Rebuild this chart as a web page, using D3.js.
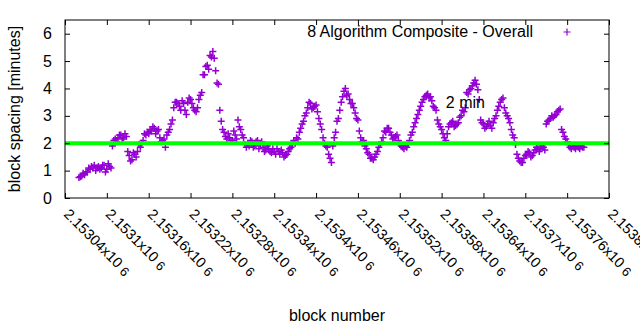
<!DOCTYPE html>
<meta charset="utf-8">

<div id="spacing-chart"></div>

<script src="https://d3js.org/d3.v7.min.js"></script>

<style type="text/css">
  body { margin: 0; background: #fff; }
  text { font-family: "Liberation Sans", Arial, sans-serif; fill: #000; }
</style>

<script>

var blocks = [
  2153060,2153062,2153064,2153066,2153068,2153070,2153072,2153074,2153076,2153078,
  2153080,2153082,2153084,2153086,2153088,2153090,2153092,2153094,2153096,2153098,
  2153100,2153102,2153104,2153106,2153108,2153110,2153112,2153114,2153116,2153118,
  2153120,2153122,2153124,2153126,2153128,2153130,2153132,2153134,2153136,2153138,
  2153140,2153142,2153144,2153146,2153148,2153150,2153152,2153154,2153156,2153158,
  2153160,2153162,2153164,2153166,2153168,2153170,2153172,2153174,2153176,2153178,
  2153180,2153182,2153184,2153186,2153188,2153190,2153192,2153194,2153196,2153198,
  2153200,2153202,2153204,2153206,2153208,2153210,2153212,2153214,2153216,2153218,
  2153220,2153222,2153224,2153226,2153228,2153230,2153232,2153234,2153236,2153238,
  2153240,2153242,2153244,2153246,2153248,2153250,2153252,2153254,2153256,2153258,
  2153260,2153262,2153264,2153266,2153268,2153270,2153272,2153274,2153276,2153278,
  2153280,2153282,2153284,2153286,2153288,2153290,2153292,2153294,2153296,2153298,
  2153300,2153302,2153304,2153306,2153308,2153310,2153312,2153314,2153316,2153318,
  2153320,2153322,2153324,2153326,2153328,2153330,2153332,2153334,2153336,2153338,
  2153340,2153342,2153344,2153346,2153348,2153350,2153352,2153354,2153356,2153358,
  2153360,2153362,2153364,2153366,2153368,2153370,2153372,2153374,2153376,2153378,
  2153380,2153382,2153384,2153386,2153388,2153390,2153392,2153394,2153396,2153398,
  2153400,2153402,2153404,2153406,2153408,2153410,2153412,2153414,2153416,2153418,
  2153420,2153422,2153424,2153426,2153428,2153430,2153432,2153434,2153436,2153438,
  2153440,2153442,2153444,2153446,2153448,2153450,2153452,2153454,2153456,2153458,
  2153460,2153462,2153464,2153466,2153468,2153470,2153472,2153474,2153476,2153478,
  2153480,2153482,2153484,2153486,2153488,2153490,2153492,2153494,2153496,2153498,
  2153500,2153502,2153504,2153506,2153508,2153510,2153512,2153514,2153516,2153518,
  2153520,2153522,2153524,2153526,2153528,2153530,2153532,2153534,2153536,2153538,
  2153540,2153542,2153544,2153546,2153548,2153550,2153552,2153554,2153556,2153558,
  2153560,2153562,2153564,2153566,2153568,2153570,2153572,2153574,2153576,2153578,
  2153580,2153582,2153584,2153586,2153588,2153590,2153592,2153594,2153596,2153598,
  2153600,2153602,2153604,2153606,2153608,2153610,2153612,2153614,2153616,2153618,
  2153620,2153622,2153624,2153626,2153628,2153630,2153632,2153634,2153636,2153638,
  2153640,2153642,2153644,2153646,2153648,2153650,2153652,2153654,2153656,2153658,
  2153660,2153662,2153664,2153666,2153668,2153670,2153672,2153674,2153676,2153678,
  2153680,2153682,2153684,2153686,2153688,2153690,2153692,2153694,2153696,2153698,
  2153700,2153702,2153704,2153706,2153708,2153710,2153712,2153714,2153716,2153718,
  2153720,2153722,2153724,2153726,2153728,2153730,2153732,2153734,2153736,2153738,
  2153740,2153742,2153744,2153746,2153748,2153750,2153752,2153754,2153756,2153758,
  2153760,2153762,2153764,2153766,2153768,2153770,2153772,2153774,2153776,2153778,
  2153780,2153782,2153784
];

// block spacing in minutes, one per block above
var spacing = [
  0.75,0.78,0.80,0.90,0.85,0.95,0.95,1.10,1.05,1.15,
  1.10,1.20,1.00,1.10,1.15,1.05,1.10,1.20,1.20,0.95,
  1.05,1.25,1.15,1.10,1.90,2.10,2.15,2.05,2.20,2.30,
  2.30,2.15,2.20,2.35,2.25,1.70,1.55,1.35,1.40,1.65,
  1.60,1.50,1.70,1.95,1.85,2.00,2.10,2.35,2.30,2.40,
  2.35,2.50,2.45,2.60,2.55,2.35,2.45,2.50,2.20,2.05,
  2.10,2.15,1.85,2.30,2.40,2.50,2.70,2.85,3.30,3.50,
  3.50,3.45,3.35,3.20,3.55,3.45,3.20,3.05,3.50,3.65,
  3.60,3.45,3.30,3.20,3.15,3.30,3.60,3.75,3.85,4.50,
  4.50,4.80,4.85,4.70,5.20,5.15,5.35,5.10,4.65,4.20,
  4.15,3.20,2.80,2.50,2.40,2.25,2.15,2.35,2.20,2.10,
  2.10,2.45,2.30,2.15,2.85,2.60,2.50,2.30,2.20,1.95,
  1.85,2.00,1.90,2.10,2.05,1.85,1.90,2.05,2.10,1.80,
  1.95,2.05,1.85,1.70,1.75,1.90,1.80,1.70,1.65,1.80,
  1.70,1.60,1.80,1.70,1.60,1.75,1.65,1.50,1.55,1.60,
  1.70,1.80,1.85,1.95,2.10,2.00,2.20,2.15,2.40,2.55,
  2.70,2.80,3.00,3.10,3.30,3.50,3.45,3.25,3.30,3.35,
  3.40,3.15,2.90,2.70,2.50,2.20,2.00,1.90,1.85,1.60,
  1.45,1.30,1.90,2.20,2.40,2.80,2.90,3.20,3.50,3.70,
  3.90,4.00,3.75,3.80,3.60,3.45,3.45,3.30,3.10,2.90,
  2.85,2.45,2.20,2.05,2.10,1.90,1.80,1.65,1.60,1.45,
  1.45,1.40,1.50,1.60,1.70,1.85,1.95,2.05,2.20,2.45,
  2.40,2.55,2.55,2.40,2.30,2.15,2.20,2.25,2.30,2.10,
  1.95,1.90,1.85,1.80,1.90,1.85,1.95,2.10,2.30,2.40,
  2.60,2.75,2.90,3.05,3.20,3.35,3.50,3.60,3.70,3.75,
  3.80,3.65,3.70,3.55,3.35,3.30,3.20,2.85,2.70,2.60,
  2.50,2.35,2.20,2.10,2.35,2.60,2.70,2.75,2.80,2.60,
  2.65,2.70,2.75,2.95,3.00,3.20,3.15,3.30,3.85,3.80,
  3.95,4.00,4.10,4.20,4.30,4.15,3.95,3.60,2.85,2.75,
  2.70,2.55,2.60,2.70,2.80,2.65,2.55,2.75,2.90,3.00,
  3.20,3.35,3.50,3.60,3.65,3.30,3.10,3.00,2.90,2.75,
  2.50,2.30,2.20,1.95,1.60,1.45,1.35,1.30,1.30,1.45,
  1.55,1.60,1.70,1.65,1.50,1.55,1.65,1.75,1.85,1.80,
  1.70,1.80,1.90,1.85,1.75,2.70,2.80,2.85,2.90,3.00,
  2.95,3.00,3.05,3.15,3.20,3.25,2.50,2.40,2.25,2.15,
  2.05,1.95,1.85,1.80,1.90,1.85,1.80,1.90,1.85,1.80,
  1.90,1.85,1.85
];

var xTicks = [2153040,2153100,2153160,2153220,2153280,2153340,2153400,
              2153460,2153520,2153580,2153640,2153700,2153760,2153820];
var xTickLabels = ["2.15304","2.1531","2.15316","2.15322","2.15328","2.15334","2.1534",
                   "2.15346","2.15352","2.15358","2.15364","2.1537","2.15376","2.15382"];
var yTicks = [0, 1, 2, 3, 4, 5, 6];

var target = 2;
var targetLabel = {block: 2153586, value: 3.3, text: "2 min"};
var seriesName = "8 Algorithm Composite - Overall";

var margin = {top: 20, right: 31, bottom: 132, left: 65},
    width = 640 - margin.left - margin.right,
    height = 330 - margin.top - margin.bottom;

var svg = d3.select("#spacing-chart")
  .append("svg")
    .attr("width", width + margin.left + margin.right)
    .attr("height", height + margin.top + margin.bottom)
  .append("g")
    .attr("transform", "translate(" + margin.left + "," + margin.top + ")");

var x = d3.scaleLinear()
  .domain([2153040, 2153820])
  .range([0, width]);

var y = d3.scaleLinear()
  .domain([0, 6.5])
  .range([height, 0]);

var data = blocks.map(function(b, i) { return {block: b, value: spacing[i]}; });

var purple = "#9400d3";
var plus = "M-3.5,0H3.5M0,-3.5V3.5";

// points
svg.selectAll("path.pt")
  .data(data)
  .enter()
  .append("path")
    .attr("class", "pt")
    .attr("d", plus)
    .attr("transform", function(d) { return "translate(" + x(d.block) + "," + y(d.value) + ")"; })
    .attr("fill", "none")
    .attr("stroke", purple)
    .attr("stroke-width", 1.5);

// 2 minute target
svg.append("line")
  .attr("x1", 0)
  .attr("x2", width)
  .attr("y1", y(target))
  .attr("y2", y(target))
  .attr("stroke", "#00ff00")
  .attr("stroke-width", 4);

svg.append("text")
  .attr("x", x(targetLabel.block))
  .attr("y", y(targetLabel.value))
  .style("font-size", "16px")
  .text(targetLabel.text);

// axes, gnuplot style: ticks pointing inward on all four sides
svg.append("g")
  .attr("transform", "translate(0," + height + ")")
  .call(d3.axisBottom(x).tickValues(xTicks).tickSize(-5).tickFormat(""))
  .call(function(g) { g.select(".domain").remove(); });

svg.append("g")
  .call(d3.axisTop(x).tickValues(xTicks).tickSize(-5).tickFormat(""))
  .call(function(g) { g.select(".domain").remove(); });

svg.append("g")
  .call(d3.axisLeft(y).tickValues(yTicks).tickSize(-5).tickPadding(13).tickFormat(d3.format("d")))
  .call(function(g) { g.select(".domain").remove(); })
  .selectAll("text")
    .style("font-size", "16px");

svg.append("g")
  .attr("transform", "translate(" + width + ",0)")
  .call(d3.axisRight(y).tickValues(yTicks).tickSize(-5).tickFormat(""))
  .call(function(g) { g.select(".domain").remove(); });

svg.selectAll(".tick line").attr("stroke", "#000");

svg.append("rect")
  .attr("width", width)
  .attr("height", height)
  .attr("fill", "none")
  .attr("stroke", "#000");

// rotated x labels
var xl = svg.append("g").selectAll("text")
  .data(xTicks)
  .enter()
  .append("text")
    .attr("transform", function(d) { return "translate(" + (x(d) - 2) + "," + (height + 17) + ")rotate(45)"; })
    .style("font-size", "14.5px")
    .text(function(d, i) { return xTickLabels[i] + "x10"; });

xl.append("tspan")
  .attr("dx", 4)
  .attr("dy", 1)
  .style("font-size", "13px")
  .text("6");

// axis titles
svg.append("text")
  .attr("x", width / 2)
  .attr("y", height + 123)
  .attr("text-anchor", "middle")
  .style("font-size", "16px")
  .text("block number");

svg.append("text")
  .attr("transform", "translate(" + (-45) + "," + (height / 2) + ")rotate(-90)")
  .attr("text-anchor", "middle")
  .style("font-size", "16px")
  .text("block spacing [minutes]");

// key
svg.append("text")
  .attr("x", width - 76)
  .attr("y", 17)
  .attr("text-anchor", "end")
  .style("font-size", "16px")
  .text(seriesName);

svg.append("path")
  .attr("d", plus)
  .attr("transform", "translate(" + (width - 42) + ",12)")
  .attr("fill", "none")
  .attr("stroke", purple)
  .attr("stroke-width", 1.2);

</script>
